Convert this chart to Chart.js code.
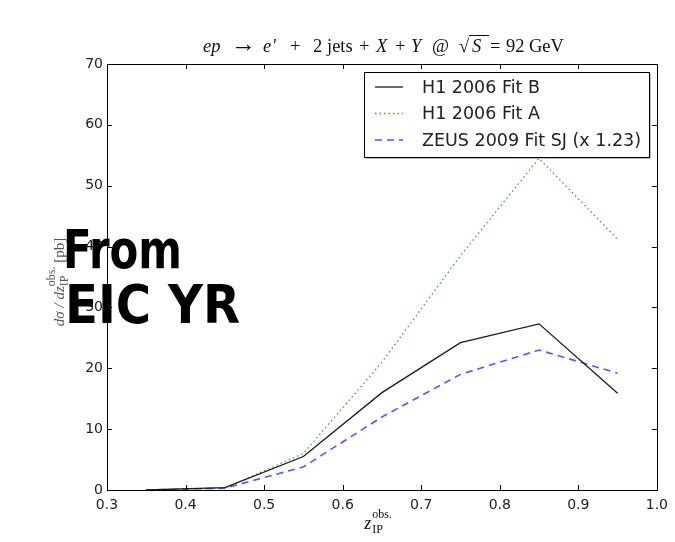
<!DOCTYPE html>
<html>
<head>
<meta charset="utf-8">
<script src="https://cdn.jsdelivr.net/npm/chart.js@4/dist/chart.umd.min.js"></script>
<style>
  html, body { margin: 0; padding: 0; background: #fff; }
  #wrap { position: relative; width: 675px; height: 542px; }
</style>
</head>
<body>
<div id="wrap"><canvas id="chartZ" width="675" height="542"></canvas></div>
<script>
// z_IP bin centres and cross sections (pb)
const zVals = [0.35, 0.45, 0.55, 0.65, 0.75, 0.85, 0.95];
const h1FitB = [0.0, 0.4, 5.5, 16.0, 24.2, 27.3, 15.9];
const h1FitA = [0.0, 0.3, 6.0, 21.0, 38.5, 54.5, 41.2];
const zeusSJ = [0.0, 0.3, 3.8, 12.0, 19.0, 23.0, 19.2];

const seriesLabels = ["H1 2006 Fit B", "H1 2006 Fit A", "ZEUS 2009 Fit SJ (x 1.23)"];
const xTicks = { min: 0.3, max: 1.0, step: 0.1 };
const yTicks = { min: 0, max: 70, step: 10 };

const toPoints = (vals) => vals.map((v, i) => ({ x: zVals[i], y: v }));

const serif = '"Liberation Serif", "DejaVu Serif", serif';
const sans = '"DejaVu Sans", sans-serif';

// draw a run of text pieces with different fonts, centred on x
const drawRich = (ctx, x, y, segs) => {
    let total = 0;
    segs.forEach(s => {
        ctx.font = s.font;
        s.w = s.stack ? Math.max(...s.stack.map(p => { ctx.font = p.font; return ctx.measureText(p.t).width; })) : ctx.measureText(s.t).width;
        total += s.w + (s.gap || 0);
    });
    let cx = x - total / 2;
    segs.forEach(s => {
        if (s.stack) {
            s.stack.forEach(p => { ctx.font = p.font; ctx.fillText(p.t, cx, y + p.dy); });
        } else {
            ctx.font = s.font;
            ctx.fillText(s.t, cx, y);
        }
        cx += s.w + (s.gap || 0);
    });
};

const framePlugin = {
    id: "frame",
    afterDraw: (chart) => {
        const ctx = chart.ctx;
        const a = chart.chartArea;
        const xs = chart.scales.x, ys = chart.scales.y;
        ctx.save();
        ctx.strokeStyle = "#000";
        ctx.lineWidth = 1;
        ctx.strokeRect(Math.round(a.left) + 0.5, Math.round(a.top) + 0.5, Math.round(a.right - a.left), Math.round(a.bottom - a.top));
        const len = 5;
        ctx.beginPath();
        xs.ticks.forEach(t => {
            const px = Math.round(xs.getPixelForValue(t.value)) + 0.5;
            ctx.moveTo(px, a.bottom); ctx.lineTo(px, a.bottom - len);
            ctx.moveTo(px, a.top); ctx.lineTo(px, a.top + len);
        });
        ys.ticks.forEach(t => {
            const py = Math.round(ys.getPixelForValue(t.value)) + 0.5;
            ctx.moveTo(a.left, py); ctx.lineTo(a.left + len, py);
            ctx.moveTo(a.right, py); ctx.lineTo(a.right - len, py);
        });
        ctx.stroke();

        // legend box, top right inside the axes
        const bx = 364, by = 72, bw = 285, bh = 85;
        ctx.fillStyle = "rgba(0,0,0,0.25)";
        ctx.fillRect(bx + 2, by + 2, bw, bh);
        ctx.fillStyle = "#fff";
        ctx.fillRect(bx, by, bw, bh);
        ctx.strokeStyle = "#000";
        ctx.strokeRect(bx + 0.5, by + 0.5, bw, bh);
        chart.data.datasets.forEach((ds, i) => {
            const ry = by + 15 + i * 26.5;
            ctx.beginPath();
            ctx.strokeStyle = ds.borderColor;
            ctx.lineWidth = ds.borderWidth;
            ctx.setLineDash(ds.borderDash || []);
            ctx.moveTo(bx + 11, ry);
            ctx.lineTo(bx + 39, ry);
            ctx.stroke();
            ctx.setLineDash([]);
            ctx.fillStyle = "#222";
            ctx.font = "17.5px " + sans;
            ctx.textBaseline = "middle";
            ctx.fillText(ds.label, bx + 58, ry + 1, 225);
        });

        // title, laid out piece by piece like the TeX original
        ctx.fillStyle = "#111";
        ctx.strokeStyle = "#111";
        ctx.textBaseline = "alphabetic";
        const it = "italic 18.5px " + serif, rm = "18.5px " + serif;
        const titleBase = 52;
        [
            ["ep", it, 203], ["\u2192", "25px " + serif, 231], ["e", it, 263], ["\u2032", rm, 273],
            ["+", rm, 290], ["2", rm, 313], ["jets", rm, 327], ["+", rm, 359],
            ["X", it, 376], ["+", rm, 395], ["Y", it, 411], ["@", rm, 432],
            ["\u221A", rm, 459], ["S", it, 472], ["=", rm, 490], ["92", rm, 506], ["GeV", rm, 529]
        ].forEach(([t, f, x]) => {
            ctx.font = f;
            ctx.fillText(t, x, titleBase);
        });
        ctx.beginPath();
        ctx.lineWidth = 1;
        ctx.moveTo(469, titleBase - 16.5);
        ctx.lineTo(489, titleBase - 16.5);
        ctx.stroke();

        // x axis title
        const sm = "12px " + serif;
        drawRich(ctx, 378, 529, [
            { t: "z", font: "italic 18px " + serif, gap: 1 },
            { stack: [{ t: "obs.", font: sm, dy: -11 }, { t: "IP", font: sm, dy: 4 }] }
        ]);

        // y axis title, rotated
        ctx.save();
        ctx.translate(64, 282);
        ctx.rotate(-Math.PI / 2);
        ctx.fillStyle = "#555";
        drawRich(ctx, 0, 0, [
            { t: "d\u03C3 / dz", font: "italic 15px " + serif },
            { stack: [{ t: "obs.", font: sm, dy: -9 }, { t: "IP", font: sm, dy: 4 }] },
            { t: " [pb]", font: "15px " + serif }
        ]);
        ctx.restore();

        // slide overlay note
        ctx.fillStyle = "#000";
        ctx.font = "bold 54px " + sans;
        ctx.textBaseline = "alphabetic";
        ctx.fillText("From", 63, 268, 119);
        ctx.fillText("EIC YR", 65, 323, 175);
        ctx.restore();
    }
};

const datasets = [
    { label: seriesLabels[0], data: toPoints(h1FitB), borderColor: "#1a1a1a", borderWidth: 1.3, borderDash: [] },
    { label: seriesLabels[1], data: toPoints(h1FitA), borderColor: "#3aa83a", borderWidth: 1.3, borderDash: [1.5, 3] },
    { label: seriesLabels[2], data: toPoints(zeusSJ), borderColor: "#4a5cff", borderWidth: 1.6, borderDash: [7, 5] }
];
datasets.forEach(d => { d.pointRadius = 0; d.tension = 0; d.fill = false; });

const tickFont = { family: sans, size: 14 };

const config = {
    type: "line",
    data: { datasets: datasets },
    options: {
        responsive: false,
        animation: false,
        layout: { padding: { left: 67, right: 18, top: 64, bottom: 22 } },
        plugins: { legend: { display: false }, title: { display: false }, tooltip: { enabled: false } },
        scales: {
            x: {
                type: "linear",
                min: xTicks.min, max: xTicks.max,
                grid: { display: false, drawTicks: false },
                border: { display: false },
                ticks: { stepSize: xTicks.step, font: tickFont, color: "#222", padding: 7, maxRotation: 0,
                         callback: v => Number(v).toFixed(1) },
                afterFit: s => { s.height = 30; }
            },
            y: {
                min: yTicks.min, max: yTicks.max,
                grid: { display: false, drawTicks: false },
                border: { display: false },
                ticks: { stepSize: yTicks.step, font: tickFont, color: "#222", padding: 4 },
                afterFit: s => { s.width = 40; }
            }
        }
    },
    plugins: [framePlugin]
};

const ctx = document.getElementById("chartZ");
const zChart = new Chart(ctx, config);
</script>
</body>
</html>
